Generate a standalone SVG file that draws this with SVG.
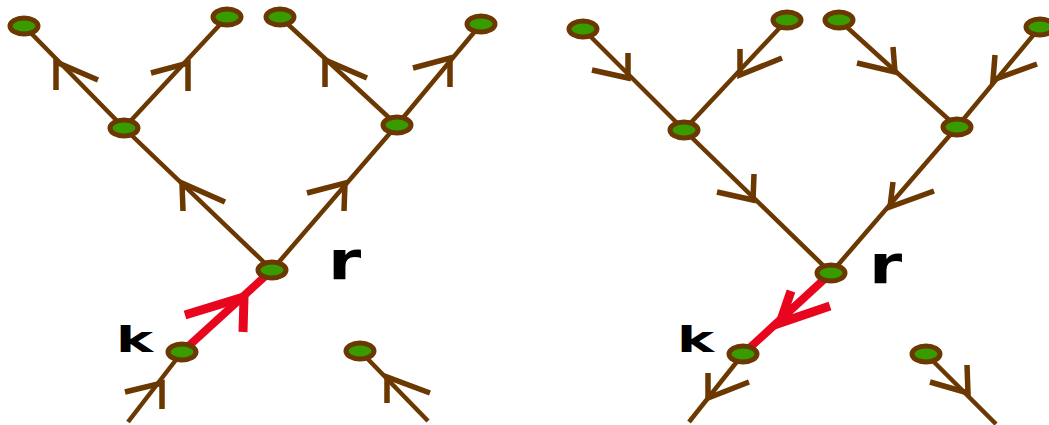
<svg xmlns="http://www.w3.org/2000/svg" width="1049" height="425" viewBox="0 0 1049 425">
<style>
.e{stroke:#6a3800;stroke-width:4.5;fill:none;stroke-linecap:butt}
.b{stroke:#6a3800;stroke-width:5.5;fill:none;stroke-linecap:butt;stroke-linejoin:miter}
.re{stroke:#e8061e;stroke-width:8;fill:none}
.rb{stroke:#e8061e;stroke-width:9;fill:none;stroke-linejoin:miter}
.n{fill:#389c00;stroke:#6a3800;stroke-width:5}
.t{font-family:"DejaVu Sans",sans-serif;font-weight:bold;fill:#000}
</style>
<rect width="1049" height="425" fill="#fff"/>
<g id="connectors">
<!-- left graph -->
<line class="e" x1="124" y1="128" x2="24" y2="26"/>
<line class="e" x1="124" y1="128" x2="227" y2="17"/>
<line class="e" x1="397" y1="125" x2="280" y2="17"/>
<line class="e" x1="397" y1="125" x2="481" y2="24"/>
<line class="e" x1="272" y1="270" x2="124" y2="128"/>
<line class="e" x1="272" y1="270" x2="397" y2="125"/>
<line class="e" x1="182" y1="352" x2="128" y2="422"/>
<line class="e" x1="360" y1="351" x2="428" y2="421"/>
<line class="re" x1="182" y1="352" x2="272" y2="270"/>
<polyline class="b" points="56,90 56,62 98,80"/>
<polyline class="b" points="188,91 188,63 151,73"/>
<polyline class="b" points="325,87 325,60 367,78"/>
<polyline class="b" points="450,87 450,58 413,68"/>
<polyline class="b" points="183,211 182,183 225,202"/>
<polyline class="b" points="344,211 345,183 307,193"/>
<polyline class="b" points="162,409 162,383 125,392"/>
<polyline class="b" points="387,403 387,377 430,393"/>
<polyline class="rb" points="243,332 244,297 185,315"/>
<!-- right graph -->
<line class="e" x1="684" y1="130" x2="583" y2="29"/>
<line class="e" x1="684" y1="130" x2="787" y2="20"/>
<line class="e" x1="957" y1="127" x2="839" y2="20"/>
<line class="e" x1="957" y1="127" x2="1040" y2="27"/>
<line class="e" x1="831" y1="273" x2="684" y2="130"/>
<line class="e" x1="831" y1="273" x2="957" y2="127"/>
<line class="e" x1="743" y1="354" x2="689" y2="422"/>
<line class="e" x1="926" y1="354" x2="996" y2="424"/>
<line class="re" x1="831" y1="273" x2="743" y2="354"/>
<polyline class="b" points="628,53 628,78 592,70"/>
<polyline class="b" points="740,49 740,75 782,58"/>
<polyline class="b" points="893,47 895,72 857,63"/>
<polyline class="b" points="995,55 993,80 1037,64"/>
<polyline class="b" points="754,174 753,200 717,192"/>
<polyline class="b" points="893,182 890,207 934,191"/>
<polyline class="b" points="708,373 708,398 749,382"/>
<polyline class="b" points="967,365 968,393 930,382"/>
<polyline class="rb" points="791,291 780,323 830,306"/>
</g>
<g id="node-l-a"><ellipse class="n" cx="24" cy="26" rx="14" ry="8"/></g>
<g id="node-l-b"><ellipse class="n" cx="227" cy="17" rx="14" ry="8"/></g>
<g id="node-l-c"><ellipse class="n" cx="280" cy="17" rx="14" ry="8"/></g>
<g id="node-l-d"><ellipse class="n" cx="481" cy="24" rx="14" ry="8"/></g>
<g id="node-l-e"><ellipse class="n" cx="124" cy="128" rx="14" ry="8"/></g>
<g id="node-l-f"><ellipse class="n" cx="397" cy="125" rx="14" ry="8"/></g>
<g id="node-l-r"><ellipse class="n" cx="272" cy="270" rx="14" ry="8"/></g>
<g id="node-l-k"><ellipse class="n" cx="182" cy="352" rx="14" ry="8"/></g>
<g id="node-l-l"><ellipse class="n" cx="360" cy="351" rx="14" ry="8"/></g>
<g id="node-r-a"><ellipse class="n" cx="583" cy="29" rx="14" ry="8"/></g>
<g id="node-r-b"><ellipse class="n" cx="787" cy="20" rx="14" ry="8"/></g>
<g id="node-r-c"><ellipse class="n" cx="839" cy="20" rx="14" ry="8"/></g>
<g id="node-r-d"><ellipse class="n" cx="1040" cy="27" rx="14" ry="8"/></g>
<g id="node-r-e"><ellipse class="n" cx="684" cy="130" rx="14" ry="8"/></g>
<g id="node-r-f"><ellipse class="n" cx="957" cy="127" rx="14" ry="8"/></g>
<g id="node-r-r"><ellipse class="n" cx="831" cy="273" rx="14" ry="8"/></g>
<g id="node-r-k"><ellipse class="n" cx="743" cy="354" rx="14" ry="8"/></g>
<g id="node-r-l"><ellipse class="n" cx="926" cy="354" rx="14" ry="8"/></g>
<g id="labels">
<text class="t" font-size="53" transform="translate(328,279) scale(1.27,1)">r</text>
<text class="t" font-size="53" transform="translate(869,283) scale(1.27,1)">r</text>
<text class="t" font-size="36" transform="translate(116,352) scale(1.55,1)">k</text>
<text class="t" font-size="36" transform="translate(677,352) scale(1.55,1)">k</text>
</g>
</svg>
